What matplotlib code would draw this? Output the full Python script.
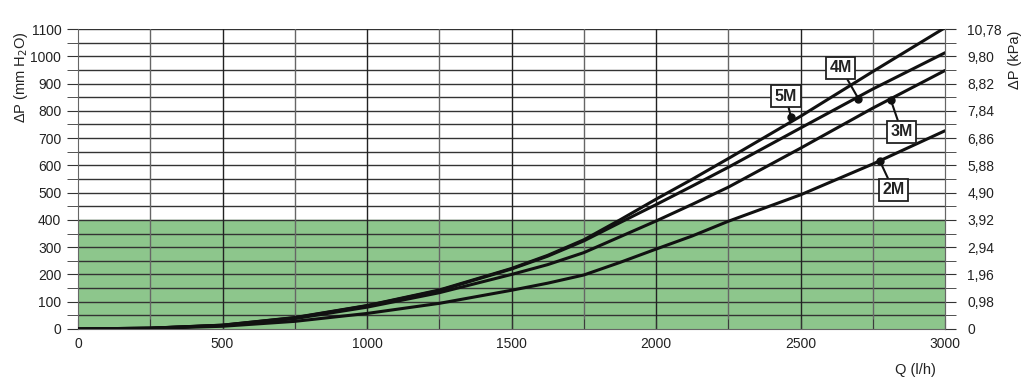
import matplotlib
matplotlib.use("Agg")
import matplotlib.pyplot as plt

plt.rcParams['font.family'] = ['Liberation Sans', 'DejaVu Sans']

# flow rate (l/h)
q = [0, 250, 500, 750, 1000, 1250, 1500, 1625, 1750, 1875, 2000, 2125, 2250, 2500, 2750, 3000]
# pressure drop (mm H2O) per valve size
dp_5m = [0, 3, 14, 42, 86, 143, 222, 270, 327, 400, 476, 549, 625, 780, 944, 1105]
dp_4m = [0, 3, 14, 41, 85, 141, 220, 267, 323, 390, 456, 524, 593, 737, 880, 1013]
dp_3m = [0, 3, 13, 38, 80, 133, 200, 236, 280, 338, 396, 457, 520, 663, 810, 948]
dp_2m = [0, 2, 10, 28, 57, 94, 142, 168, 198, 244, 293, 341, 395, 492, 605, 727]

series = {"5M": dp_5m, "4M": dp_4m, "3M": dp_3m, "2M": dp_2m}
# marker point on each curve and where its tag sits
marks = {"5M": (2467, 777), "4M": (2700, 845), "3M": (2813, 838), "2M": (2775, 615)}
tags = {"5M": (2449, 854), "4M": (2639, 958), "3M": (2850, 723), "2M": (2821, 510)}

kpa_labels = ["0", "0,98", "1,96", "2,94", "3,92", "4,90", "5,88",
              "6,86", "7,84", "8,82", "9,80", "10,78"]

fig = plt.figure(figsize=(10.24, 3.87), dpi=100)
ax = fig.add_axes([0.0762, 0.1499, 0.8467, 0.7751])

ax.set_xlim(0, 3000)
ax.set_ylim(0, 1100)

# green operating zone
ax.axhspan(0, 400, color="#8dc68c", zorder=0)

# grid
for y in range(50, 1101, 50):
    ax.axhline(y, color="#333333", lw=1.0, zorder=1)
for x in range(250, 3000, 250):
    c = "#222222" if x % 500 == 0 else "#666666"
    ax.axvline(x, color=c, lw=1.0, zorder=1)

for name, vals in series.items():
    ax.plot(q, vals, color="#111111", lw=2.2, zorder=3,
            solid_capstyle="round", solid_joinstyle="round")
    mx, my = marks[name]
    tx, ty = tags[name]
    ax.plot(mx, my, "o", color="#111111", ms=5, zorder=4)
    ax.annotate(name, xy=(mx, my), xytext=(tx, ty), ha="center", va="center",
                fontsize=11.5, fontweight="bold", color="#222222", zorder=5,
                bbox=dict(boxstyle="square,pad=0.22", fc="white", ec="#222222", lw=1.3),
                arrowprops=dict(arrowstyle="-", color="#111111", lw=1.5,
                                shrinkA=0, shrinkB=0))

for s in ax.spines.values():
    s.set_color("#666666")
ax.spines["top"].set_visible(False)

ax.set_xticks(range(0, 3001, 500))
ax.set_xticks(range(0, 3001, 250), minor=True)
ax.set_yticks(range(0, 1101, 100))
ax.set_yticks(range(0, 1101, 50), minor=True)
ax.tick_params(axis="both", which="both", labelsize=10, colors="#333333",
               labelcolor="#222222")
ax.tick_params(axis="x", which="both", direction="in", length=7, pad=6)
ax.tick_params(axis="y", which="both", direction="out", length=8, pad=4)

ax2 = ax.twinx()
ax2.set_ylim(0, 1100)
ax2.set_yticks(range(0, 1101, 100))
ax2.set_yticklabels(kpa_labels)
ax2.set_yticks(range(0, 1101, 50), minor=True)
ax2.tick_params(axis="y", which="both", direction="out", length=8, pad=8,
                labelsize=10, colors="#333333", labelcolor="#222222")
for s in ax2.spines.values():
    s.set_visible(False)
ax2.spines["right"].set_visible(True)
ax2.spines["right"].set_color("#666666")

fig.text(0.012, 0.80, r"ΔP (mm H$_2$O)", rotation=90, ha="left", va="center",
         fontsize=10.5, color="#222222")
fig.text(0.998, 0.845, "ΔP (kPa)", rotation=90, ha="right", va="center",
         fontsize=10.5, color="#222222")
fig.text(0.894, 0.045, "Q (l/h)", ha="center", va="center",
         fontsize=10.5, color="#222222")

fig.savefig("out.png", dpi=100)
